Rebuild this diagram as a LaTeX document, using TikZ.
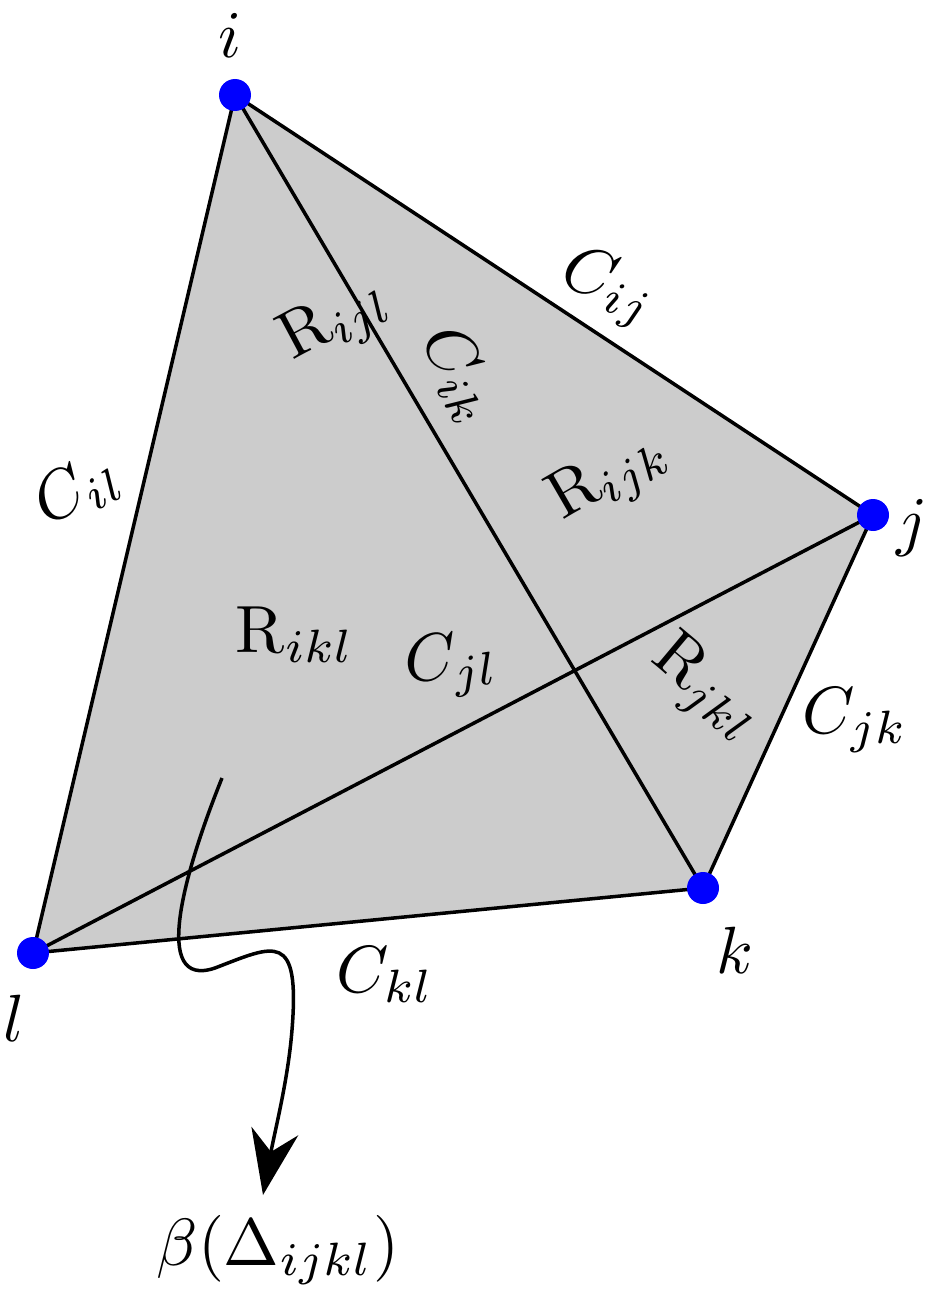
\documentclass[tikz,border=0pt]{standalone}
\usetikzlibrary{arrows.meta}
\begin{document}
\begin{tikzpicture}[x=0.02cm,y=-0.02cm,
  lab/.style={scale=3.8,transform shape},
  vtx/.style={circle,fill=blue,inner sep=0pt,minimum size=0.64cm},
  edge/.style={line width=2pt}]
\useasboundingbox (0,0) rectangle (934,1307);
\coordinate (i) at (235,95);
\coordinate (j) at (873,515);
\coordinate (k) at (703,888);
\coordinate (l) at (33,953);
\fill[black!20] (i) -- (j) -- (k) -- (l) -- cycle;
\draw[edge] (i) -- (j) -- (k) -- (l) -- cycle;
\draw[edge] (i) -- (k);
\draw[edge] (j) -- (l);
\node[vtx] (vi) at (i) {};
\node[vtx] (vj) at (j) {};
\node[vtx] (vk) at (k) {};
\node[vtx] (vl) at (l) {};
\node[lab] (ti) at (230,35) {$i$};
\node[lab] (tj) at (912,528) {$j$};
\node[lab] (tk) at (735,950) {$k$};
\node[lab] (tl) at (14,1018) {$l$};
\node[lab,rotate=-20] (cij) at (608,288) {$C_{ij}$};
\node[lab,rotate=-62] (cik) at (460,375) {$C_{ik}$};
\node[lab,rotate=28] (cil) at (78,490) {$C_{il}$};
\node[lab,rotate=5] (cjl) at (452,665) {$C_{jl}$};
\node[lab] (cjk) at (855,720) {$C_{jk}$};
\node[lab] (ckl) at (385,975) {$C_{kl}$};
\node[lab,rotate=28] (rijl) at (336,322) {$\mathrm{R}_{ijl}$};
\node[lab,rotate=30] (rijk) at (610,478) {$\mathrm{R}_{ijk}$};
\node[lab] (rikl) at (295,635) {$\mathrm{R}_{ikl}$};
\node[lab,rotate=-40] (rjkl) at (705,690) {$\mathrm{R}_{jkl}$};
\node[lab] (beta) at (278,1250) {$\beta(\Delta_{ijkl})$};
\coordinate (s) at (222,778);
\coordinate (tip) at (263,1195);
\draw[line width=2pt,-{Stealth[length=1.3cm,width=0.95cm]}] (s) .. controls (185,870) and (150,990) .. (215,968) .. controls (275,945) and (300,930) .. (292,1030) .. controls (288,1080) and (275,1130) .. (tip);
\end{tikzpicture}
\end{document}
